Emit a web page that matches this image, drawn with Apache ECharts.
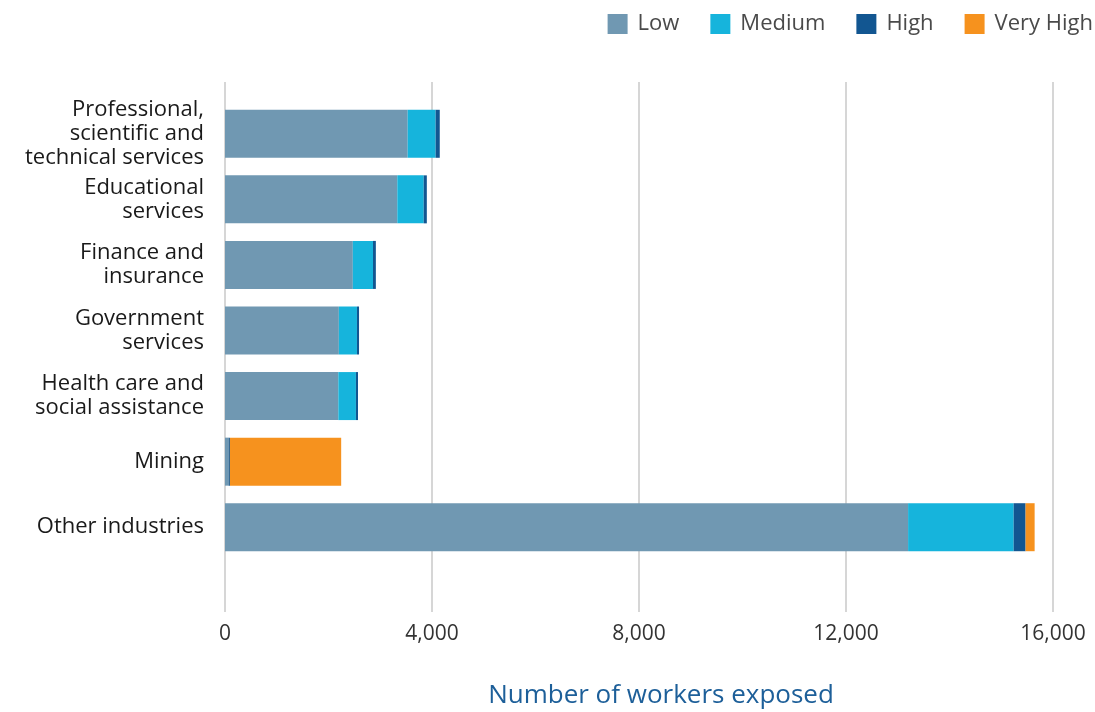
<!DOCTYPE html>
<html><head><meta charset="utf-8">
<script src="https://cdn.jsdelivr.net/npm/echarts@6/dist/echarts.min.js"></script>
<style>html,body{margin:0;padding:0;background:#fff}#c{width:1095px;height:712px}</style>
</head><body><div id="c"></div>
<script>
const categories = ["Professional,\nscientific and\ntechnical services","Educational\nservices","Finance and\ninsurance","Government\nservices","Health care and\nsocial assistance","Mining","Other industries"];
const low      = [3530, 3330, 2470, 2200, 2190, 70, 13200];
const medium   = [540, 510, 390, 350, 340, 0, 2040];
const high     = [80, 60, 55, 40, 40, 25, 230];
const veryHigh = [0, 0, 0, 0, 0, 2150, 175];
const xTicks = [0, 4000, 8000, 12000, 16000];

const FONT = "Open Sans";
const chart = echarts.init(document.getElementById('c'));
function mk(name, data, color){
  return {name, type:'bar', stack:'s', data, xAxisIndex:1, yAxisIndex:1, barWidth:48,
    itemStyle:{color}, emphasis:{disabled:true}};
}
chart.setOption({
  animation:false,
  textStyle:{fontFamily:FONT},
  legend:{right:2, top:13, padding:0, itemWidth:20, itemHeight:20, itemGap:31, icon:'rect',
    textStyle:{fontSize:22, color:'#4a4a4a', fontFamily:FONT, padding:[0,0,0,5]},
    data:['Low','Medium','High','Very High']},
  grid:[
    {left:225, right:42, top:82, bottom:100, containLabel:false, outerBoundsMode:'none'},
    {left:225, right:42, top:101, bottom:152, containLabel:false, outerBoundsMode:'none'}
  ],
  xAxis:[
    {type:'value', gridIndex:0, min:xTicks[0], max:xTicks[xTicks.length-1], interval:4000,
      axisLine:{show:false}, axisTick:{show:false},
      splitLine:{lineStyle:{color:'#c8c8c8', width:1.5}},
      axisLabel:{fontSize:21, color:'#333', margin:12, fontFamily:FONT,
        formatter:v=>v.toLocaleString('en-US')},
      name:'Number of workers exposed', nameLocation:'middle', nameGap:71,
      nameTextStyle:{fontSize:26, color:'#1d5f99', fontFamily:FONT, padding:[0,0,0,44]}},
    {type:'value', gridIndex:1, min:0, max:16000, interval:4000, show:false}
  ],
  yAxis:[
    {type:'category', gridIndex:0, show:false, data:[]},
    {type:'category', gridIndex:1, data:categories, inverse:true,
      axisLine:{show:false}, axisTick:{show:false},
      axisLabel:{fontSize:22, color:'#1a1a1a', lineHeight:24, margin:21, fontFamily:FONT, align:'right'}}
  ],
  series:[
    mk('Low', low, '#7098b2'),
    mk('Medium', medium, '#16b4dc'),
    mk('High', high, '#125691'),
    mk('Very High', veryHigh, '#f6921e')
  ]
});
</script></body></html>
